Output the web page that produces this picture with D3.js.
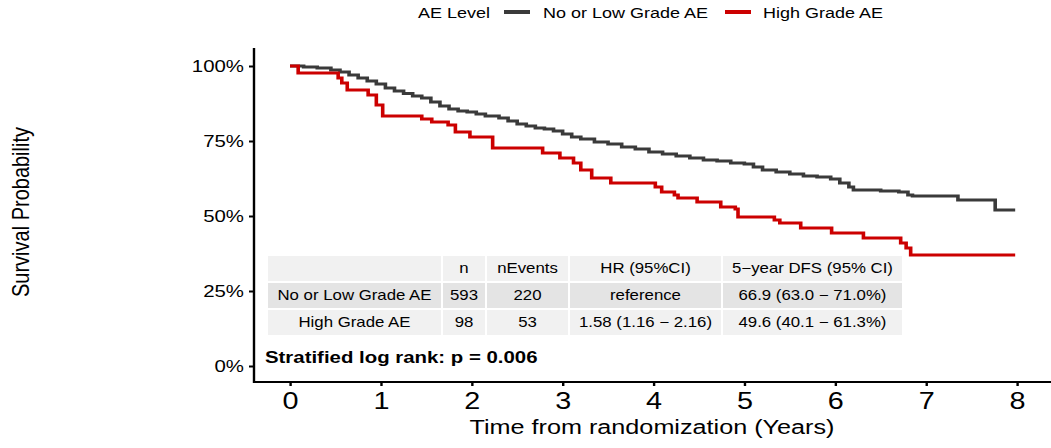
<!DOCTYPE html>
<html>
<head>
<meta charset="utf-8">
<script src="https://cdn.jsdelivr.net/npm/d3@7"></script>
<style>
    body { margin: 0; background: #fff; }
    svg { display: block; }
    text { font-family: "Liberation Sans", Arial, sans-serif; fill: #000; }
</style>
</head>
<body>
<svg id="km"></svg>
<script>
// values
const legendTitle = 'AE Level';
const groups = ['No or Low Grade AE', 'High Grade AE'];
const groupColors = ['#3a3a3a', '#cc0000'];

const lowTime = [0, 0.15, 0.3, 0.45, 0.55, 0.65, 0.75, 0.85, 0.95, 1.05, 1.15, 1.25, 1.35, 1.45, 1.55,
    1.65, 1.75, 1.85, 1.95, 2.05, 2.15, 2.3, 2.4, 2.5, 2.6, 2.7, 2.8, 2.9, 3.0, 3.1, 3.2, 3.35, 3.5,
    3.65, 3.8, 3.95, 4.1, 4.25, 4.4, 4.55, 4.7, 4.85, 5.0, 5.1, 5.2, 5.35, 5.5, 5.65, 5.8, 5.95, 6.05,
    6.15, 6.2, 6.5, 6.7, 6.8, 6.85, 7.35, 7.76, 7.98];
const lowSurv = [1.0, 0.997, 0.993, 0.987, 0.98, 0.97, 0.96, 0.95, 0.94, 0.927, 0.917, 0.908, 0.9, 0.893, 0.88,
    0.867, 0.857, 0.85, 0.847, 0.84, 0.833, 0.827, 0.817, 0.807, 0.8, 0.793, 0.79, 0.783, 0.773, 0.763, 0.757, 0.747, 0.74,
    0.73, 0.723, 0.713, 0.707, 0.7, 0.693, 0.687, 0.683, 0.677, 0.673, 0.663, 0.653, 0.647, 0.64, 0.633, 0.63, 0.623, 0.61,
    0.597, 0.587, 0.583, 0.58, 0.57, 0.567, 0.553, 0.52, 0.52];

const highTime = [0, 0.09, 0.53, 0.57, 0.63, 0.86, 0.95, 1.02, 1.45, 1.56, 1.74, 1.82, 1.98, 2.23, 2.78,
    2.97, 3.12, 3.2, 3.32, 3.53, 4.02, 4.09, 4.23, 4.27, 4.48, 4.74, 4.9, 4.93, 5.33, 5.39, 5.62, 5.96,
    6.31, 6.72, 6.78, 6.83, 7.98];
const highSurv = [1.0, 0.977, 0.96, 0.943, 0.92, 0.903, 0.87, 0.833, 0.823, 0.813, 0.803, 0.78, 0.763, 0.727, 0.71,
    0.693, 0.677, 0.653, 0.627, 0.61, 0.597, 0.58, 0.57, 0.56, 0.547, 0.53, 0.523, 0.497, 0.487, 0.477, 0.46, 0.443,
    0.427, 0.41, 0.393, 0.37, 0.37];

const xTicks = [0, 1, 2, 3, 4, 5, 6, 7, 8];
const yTicks = [0, 0.25, 0.5, 0.75, 1];
const yTickLabels = ['0%', '25%', '50%', '75%', '100%'];

const tableHeader = ['', 'n', 'nEvents', 'HR (95%CI)', '5\u2212year DFS (95% CI)'];
const tableRows = [
    ['No or Low Grade AE', '593', '220', 'reference', '66.9 (63.0 \u2212 71.0%)'],
    ['High Grade AE', '98', '53', '1.58 (1.16 \u2212 2.16)', '49.6 (40.1 \u2212 61.3%)']
];
const pValueText = 'Stratified log rank: p = 0.006';

// the picture is stretched sideways, so draw in a narrower box and let the viewBox widen it
const W = 1051, H = 448, stretch = 1.2;
const px = v => v / stretch;

const svg = d3.select('#km')
    .attr('width', W)
    .attr('height', H)
    .attr('viewBox', `0 0 ${px(W)} ${H}`)
    .attr('preserveAspectRatio', 'none');

const x = d3.scaleLinear().domain([0, 8]).range([px(290), px(1017)]);
const y = d3.scaleLinear().domain([0, 1]).range([366, 66]);

// axes
const yAxis = svg.append('g')
    .attr('transform', `translate(${px(254)},0)`)
    .call(d3.axisLeft(y).tickValues(yTicks).tickFormat((d, i) => yTickLabels[i])
        .tickSize(px(5)).tickPadding(px(5)));
yAxis.select('.domain').remove();
yAxis.selectAll('line').attr('stroke', '#000').attr('stroke-width', 2);
yAxis.selectAll('text').style('font-size', '17px').attr('fill', '#1a1a1a');

const xAxis = svg.append('g')
    .attr('transform', 'translate(0,382)')
    .call(d3.axisBottom(x).tickValues(xTicks).tickFormat(d3.format('d'))
        .tickSize(4).tickPadding(6));
xAxis.select('.domain').remove();
xAxis.selectAll('line').attr('stroke', '#000').attr('stroke-width', 2);
xAxis.selectAll('text').style('font-size', '24px').attr('fill', '#1a1a1a');

svg.append('line')
    .attr('x1', px(254)).attr('x2', px(254))
    .attr('y1', 48).attr('y2', 383)
    .attr('stroke', '#000').attr('stroke-width', 2);
svg.append('line')
    .attr('x1', px(253)).attr('x2', px(W))
    .attr('y1', 382).attr('y2', 382)
    .attr('stroke', '#000').attr('stroke-width', 2);

svg.append('text')
    .attr('x', px(652)).attr('y', 434)
    .attr('text-anchor', 'middle')
    .style('font-size', '21px')
    .text('Time from randomization (Years)');

svg.append('text')
    .attr('transform', `translate(${px(29)},212) rotate(-90)`)
    .attr('text-anchor', 'middle')
    .style('font-size', '20px')
    .text('Survival Probability');

// survival curves
const step = d3.line()
    .x(d => x(d[0]))
    .y(d => y(d[1]))
    .curve(d3.curveStepAfter);

const series = [
    d3.zip(lowTime, lowSurv),
    d3.zip(highTime, highSurv)
];

svg.selectAll('path.km')
    .data(series)
    .enter()
    .append('path')
    .attr('class', 'km')
    .attr('d', step)
    .attr('fill', 'none')
    .attr('stroke', (d, i) => groupColors[i])
    .attr('stroke-width', 3);

// legend
svg.append('text')
    .attr('x', px(418)).attr('y', 18)
    .style('font-size', '15px')
    .text(legendTitle);

const legendKeyX = [504, 725];
const legendTextX = [543, 763];
groups.forEach((g, i) => {
    svg.append('line')
        .attr('x1', px(legendKeyX[i])).attr('x2', px(legendKeyX[i] + 26))
        .attr('y1', 12).attr('y2', 12)
        .attr('stroke', groupColors[i]).attr('stroke-width', 4);
    svg.append('text')
        .attr('x', px(legendTextX[i])).attr('y', 18)
        .style('font-size', '15px')
        .text(g);
});

// summary table
const colX = [268, 443, 487, 570, 723];
const colW = [173, 42, 81, 151, 179];
const rowY = [256, 283, 310];
const rowH = 25;
const rowFill = ['#f1f1f1', '#e4e4e4', '#f1f1f1'];

const table = svg.append('g');
[tableHeader].concat(tableRows).forEach((row, r) => {
    row.forEach((cell, c) => {
        table.append('rect')
            .attr('x', px(colX[c])).attr('y', rowY[r])
            .attr('width', px(colW[c])).attr('height', rowH)
            .attr('fill', rowFill[r]);
        table.append('text')
            .attr('x', px(colX[c] + colW[c] / 2))
            .attr('y', rowY[r] + rowH / 2)
            .attr('dy', '0.35em')
            .attr('text-anchor', 'middle')
            .style('font-size', '14px')
            .attr('fill', '#1a1a1a')
            .text(cell);
    });
});

svg.append('text')
    .attr('x', px(265)).attr('y', 363)
    .style('font-size', '17px')
    .style('font-weight', 'bold')
    .text(pValueText);
</script>
</body>
</html>
